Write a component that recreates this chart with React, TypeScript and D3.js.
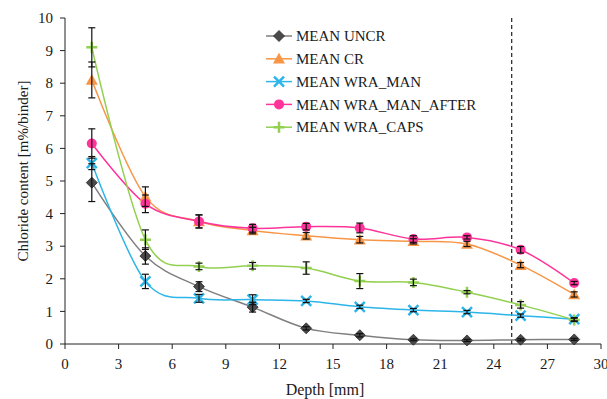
import React from "react";
import * as d3 from "d3";

const depths = [1.5, 4.5, 7.5, 10.5, 13.5, 16.5, 19.5, 22.5, 25.5, 28.5];

const seriesNames = ["MEAN UNCR", "MEAN CR", "MEAN WRA_MAN", "MEAN WRA_MAN_AFTER", "MEAN WRA_CAPS"];

const uncr = [4.95, 2.7, 1.76, 1.13, 0.48, 0.27, 0.13, 0.11, 0.13, 0.14];
const cr = [8.1, 4.52, 3.76, 3.48, 3.32, 3.2, 3.15, 3.07, 2.42, 1.52];
const wraMan = [5.55, 1.92, 1.4, 1.36, 1.32, 1.14, 1.04, 0.98, 0.87, 0.76];
const wraManAfter = [6.15, 4.3, 3.76, 3.55, 3.6, 3.56, 3.22, 3.27, 2.89, 1.87];
const wraCaps = [9.1, 3.2, 2.38, 2.4, 2.33, 1.93, 1.89, 1.59, 1.2, 0.74];

const uncrErr = [0.58, 0.25, 0.15, 0.15, 0.05, 0.05, 0.03, 0.03, 0.03, 0.03];
const crErr = [0.55, 0.3, 0.2, 0.1, 0.1, 0.1, 0.08, 0.08, 0.08, 0.08];
const wraManErr = [0.2, 0.22, 0.12, 0.15, 0.05, 0.05, 0.05, 0.05, 0.05, 0.05];
const wraManAfterErr = [0.45, 0.27, 0.2, 0.12, 0.1, 0.15, 0.1, 0.05, 0.1, 0.05];
const wraCapsErr = [0.6, 0.3, 0.1, 0.1, 0.19, 0.23, 0.1, 0.05, 0.1, 0.05];

const xTicks = [0, 3, 6, 9, 12, 15, 18, 21, 24, 27, 30];
const yTicks = [0, 1, 2, 3, 4, 5, 6, 7, 8, 9, 10];
const dashedDepth = 25;

const colors = ["#4a4a4a", "#f79646", "#2cb5e9", "#ff3399", "#92d050"];
const lineColors = ["#7f7f7f", "#f79646", "#2cb5e9", "#ff3399", "#92d050"];
const markerTypes = ["diamond", "triangle", "x", "circle", "plus"];

const allValues = [uncr, cr, wraMan, wraManAfter, wraCaps];
const allErrs = [uncrErr, crErr, wraManErr, wraManAfterErr, wraCapsErr];

const FONT = "'Liberation Serif', 'Times New Roman', serif";

function Marker({ type, x, y, color }: { type: string; x: number; y: number; color: string }) {
  if (type === "diamond") {
    const s = 5.5;
    return <path d={`M${x},${y - s}L${x + s},${y}L${x},${y + s}L${x - s},${y}Z`} fill={color} stroke="#2a2a2a" strokeWidth={0.8} />;
  }
  if (type === "triangle") {
    const s = 6;
    return <path d={`M${x},${y - s}L${x + s},${y + s * 0.8}L${x - s},${y + s * 0.8}Z`} fill={color} />;
  }
  if (type === "circle") {
    return <circle cx={x} cy={y} r={5} fill={color} />;
  }
  if (type === "x") {
    const s = 5;
    return (
      <path d={`M${x - s},${y - s}L${x + s},${y + s}M${x - s},${y + s}L${x + s},${y - s}`} stroke={color} strokeWidth={2.5} />
    );
  }
  const s = 5.5;
  return <path d={`M${x - s},${y}L${x + s},${y}M${x},${y - s}L${x},${y + s}`} stroke={color} strokeWidth={2.5} />;
}

export default function App() {
  const width = 607;
  const height = 399;
  const left = 65;
  const right = 601;
  const top = 18;
  const bottom = 344;

  const x = d3.scaleLinear().domain([0, 30]).range([left, right]);
  const y = d3.scaleLinear().domain([0, 10]).range([bottom, top]);

  const line = d3
    .line<number>()
    .x((_, i) => x(depths[i]))
    .y((v) => y(v))
    .curve(d3.curveCardinal.tension(0));

  const legendX = 266;
  const legendY0 = 36;
  const legendDy = 22.8;

  return (
    <svg width={width} height={height} style={{ position: "absolute", left: 0, top: 0, background: "#fff" }}>
      {/* axes */}
      <line x1={left} x2={left} y1={top} y2={bottom} stroke="#222" strokeWidth={1} />
      <line x1={left} x2={right} y1={bottom} y2={bottom} stroke="#222" strokeWidth={1} />
      {yTicks.map((t) => (
        <g key={"y" + t}>
          <line x1={left - 5} x2={left} y1={y(t)} y2={y(t)} stroke="#222" />
          <text x={left - 12} y={y(t)} dy="0.35em" textAnchor="end" fontFamily={FONT} fontSize={15} fill="#1a1a1a">
            {t}
          </text>
        </g>
      ))}
      {xTicks.map((t) => (
        <g key={"x" + t}>
          <line x1={x(t)} x2={x(t)} y1={bottom} y2={bottom + 5} stroke="#222" />
          <text x={x(t)} y={bottom + 20} dy="0.35em" textAnchor="middle" fontFamily={FONT} fontSize={15} fill="#1a1a1a">
            {t}
          </text>
        </g>
      ))}
      <text x={325} y={395} textAnchor="middle" fontFamily={FONT} fontSize={16} fill="#1a1a1a">
        Depth [mm]
      </text>
      <text
        transform={`translate(28,171) rotate(-90)`}
        textAnchor="middle"
        fontFamily={FONT}
        fontSize={15}
        fill="#1a1a1a"
      >
        Chloride content [m%/binder]
      </text>

      {/* dashed line */}
      <line x1={x(dashedDepth)} x2={x(dashedDepth)} y1={top} y2={bottom} stroke="#333" strokeWidth={1.3} strokeDasharray="4,3" />

      {/* lines */}
      {allValues.map((vals, si) => (
        <path key={"l" + si} d={line(vals) || ""} fill="none" stroke={lineColors[si]} strokeWidth={1.5} />
      ))}

      {/* markers */}
      {allValues.map((vals, si) => (
        <g key={"m" + si}>
          {vals.map((v, i) => (
            <Marker key={i} type={markerTypes[si]} x={x(depths[i])} y={y(v)} color={colors[si]} />
          ))}
        </g>
      ))}

      {/* error bars */}
      {allValues.map((vals, si) => (
        <g key={"e" + si} stroke="#111" strokeWidth={1.2}>
          {vals.map((v, i) => {
            const e = allErrs[si][i];
            const cx = x(depths[i]);
            const y1 = y(v + e);
            const y2 = y(v - e);
            return (
              <g key={i}>
                <line x1={cx} x2={cx} y1={y1} y2={y2} />
                <line x1={cx - 3.5} x2={cx + 3.5} y1={y1} y2={y1} />
                <line x1={cx - 3.5} x2={cx + 3.5} y1={y2} y2={y2} />
              </g>
            );
          })}
        </g>
      ))}

      {/* legend */}
      {seriesNames.map((name, si) => {
        const ly = legendY0 + si * legendDy;
        return (
          <g key={"lg" + si}>
            <line x1={legendX} x2={legendX + 26} y1={ly} y2={ly} stroke={lineColors[si]} strokeWidth={1.5} />
            <Marker type={markerTypes[si]} x={legendX + 13} y={ly} color={colors[si]} />
            <text x={legendX + 30} y={ly} dy="0.35em" fontFamily={FONT} fontSize={15} fill="#1a1a1a">
              {name}
            </text>
          </g>
        );
      })}
    </svg>
  );
}
